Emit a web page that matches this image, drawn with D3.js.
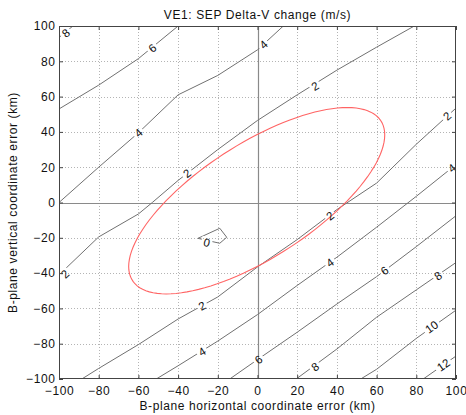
<!DOCTYPE html>
<html>
<head>
<meta charset="utf-8">
<script src="https://cdn.jsdelivr.net/npm/d3@7"></script>
<style>
  body { margin: 0; background: #fff; }
  svg { display: block; font-family: "Liberation Sans", Arial, Helvetica, sans-serif; }
</style>
</head>
<body>
<svg id="chart" width="466" height="415"></svg>
<script>
// VE1 SEP delta-V contour plot over B-plane errors

const xTicks = [-100, -80, -60, -40, -20, 0, 20, 40, 60, 80, 100];
const yTicks = [-100, -80, -60, -40, -20, 0, 20, 40, 60, 80, 100];

// contour polylines, [x km, y km]
const c8Upper = [[-100, 93.5], [-93, 100]];
const c6Upper = [[-100, 53], [-80, 66.5], [-60, 81.5], [-40, 100]];
const c4Upper = [[-100, 0], [-80, 20], [-60, 39.5], [-40, 61], [-20, 72], [0, 86.5], [13, 100]];
const c2Upper = [[-100, -41], [-80, -19.5], [-60, -6.5], [-53, 0], [-40, 12.5], [-20, 30], [0, 46.5], [20, 61], [40, 75], [60, 88], [79, 100]];
const c0Loop = [[-30, -20.3], [-19, -14.6], [-15.5, -19.7], [-19, -23.1], [-30, -20.3]];
const c2Lower = [[-88.5, -100], [-80, -94], [-60, -80.5], [-40, -66], [-20, -53.5], [0, -36.5], [20, -21], [40, -4], [60, 11], [80, 33], [100, 53.5]];
const c4Lower = [[-51, -100], [-40, -92.5], [-20, -78.5], [0, -63.5], [20, -47], [40, -31], [60, -14], [80, 3.5], [100, 21.5]];
const c6Lower = [[-14, -100], [0, -89], [20, -73.5], [40, -57.5], [60, -42], [80, -25], [100, -7.5]];
const c8Lower = [[19.5, -100], [40, -83], [60, -65], [80, -49.5], [100, -34]];
const c10Lower = [[52, -100], [60, -94.5], [80, -77], [100, -61]];
const c12Lower = [[83.5, -100], [100, -87]];

// contour label positions: [level, x, y]
const contourLabels = [
  [8, -96.5, 96], [6, -53, 87.5], [4, -60, 39.5], [4, 3, 89.5],
  [2, -97, -40.5], [2, -35.5, 16.5], [2, 29, 66], [0, -25.6, -22.6],
  [2, -28, -58.5], [2, 36.5, -7.5], [2, 95.5, 49],
  [4, -28, -84.5], [4, 36.5, -34], [4, 98, 19.5],
  [6, 0.5, -89], [6, 64, -38.5],
  [8, 29, -93], [8, 91, -41.5],
  [10, 87.7, -70.5], [12, 93.6, -92]
];

// 1-sigma dispersion ellipse: centre and covariance (km^2)
const ellipseCenter = [-0.4, 1];
const ellipseCov = { xx: 4160, xy: 2406, yy: 2788 };

const contours = [
  { level: 8, pts: c8Upper }, { level: 6, pts: c6Upper }, { level: 4, pts: c4Upper },
  { level: 2, pts: c2Upper }, { level: 0, pts: c0Loop }, { level: 2, pts: c2Lower },
  { level: 4, pts: c4Lower }, { level: 6, pts: c6Lower }, { level: 8, pts: c8Lower },
  { level: 10, pts: c10Lower }, { level: 12, pts: c12Lower }
];

const W = 466, H = 415;
const L = 59, R = 456, T = 26, B = 379;
const FONT = 12, SPACING = '0.6px';
const svg = d3.select('#chart');

const x = d3.scaleLinear().domain([-100, 100]).range([L, R]);
const y = d3.scaleLinear().domain([-100, 100]).range([B, T]);

// grid
const grid = svg.append('g').attr('stroke', '#b4b4b4').attr('stroke-width', 1).attr('stroke-dasharray', '1,2');
grid.selectAll('.gx').data(xTicks.slice(1, -1)).join('line')
  .attr('x1', d => Math.round(x(d)) + 0.5).attr('x2', d => Math.round(x(d)) + 0.5)
  .attr('y1', T).attr('y2', B);
grid.selectAll('.gy').data(yTicks.slice(1, -1)).join('line')
  .attr('y1', d => Math.round(y(d)) + 0.5).attr('y2', d => Math.round(y(d)) + 0.5)
  .attr('x1', L).attr('x2', R);

// zero lines
svg.append('line').attr('x1', Math.round(x(0)) + 0.5).attr('x2', Math.round(x(0)) + 0.5)
  .attr('y1', T).attr('y2', B).attr('stroke', '#8a8a8a').attr('stroke-width', 1.2);
svg.append('line').attr('y1', Math.round(y(0)) + 0.5).attr('y2', Math.round(y(0)) + 0.5)
  .attr('x1', L).attr('x2', R).attr('stroke', '#8a8a8a').attr('stroke-width', 1.2);

// label geometry: angle from nearest contour segment
function labelAngle(lv, lx, ly) {
  let best = null, bestD = Infinity;
  contours.filter(c => c.level === lv).forEach(c => {
    for (let i = 0; i < c.pts.length - 1; i++) {
      const ax = x(c.pts[i][0]), ay = y(c.pts[i][1]);
      const bx = x(c.pts[i + 1][0]), by = y(c.pts[i + 1][1]);
      const px = x(lx), py = y(ly);
      const dx = bx - ax, dy = by - ay;
      let t = ((px - ax) * dx + (py - ay) * dy) / (dx * dx + dy * dy);
      t = Math.max(0, Math.min(1, t));
      const qx = ax + t * dx, qy = ay + t * dy;
      const dd = (qx - px) ** 2 + (qy - py) ** 2;
      if (dd < bestD) { bestD = dd; best = [dx, dy]; }
    }
  });
  let a = Math.atan2(best[1], best[0]) * 180 / Math.PI;
  if (a > 90) a -= 180;
  if (a < -90) a += 180;
  return a;
}
const labelInfo = contourLabels.map(([lv, lx, ly]) => ({
  lv, px: x(lx), py: y(ly), ang: labelAngle(lv, lx, ly)
}));

// mask to break the contour lines under their labels
const defs = svg.append('defs');
const mask = defs.append('mask').attr('id', 'lblMask').attr('maskUnits', 'userSpaceOnUse')
  .attr('x', 0).attr('y', 0).attr('width', W).attr('height', H);
mask.append('rect').attr('width', W).attr('height', H).attr('fill', '#fff');
mask.selectAll('rect.hole').data(labelInfo).join('rect').attr('class', 'hole')
  .attr('x', d => -(String(d.lv).length * 3.4 + 2)).attr('y', -5.5)
  .attr('width', d => 2 * (String(d.lv).length * 3.4 + 2)).attr('height', 11)
  .attr('fill', '#000')
  .attr('transform', d => `translate(${d.px},${d.py}) rotate(${d.ang})`);
defs.append('clipPath').attr('id', 'plotClip').append('rect')
  .attr('x', L).attr('y', T).attr('width', R - L).attr('height', B - T);

const line = d3.line().x(d => x(d[0])).y(d => y(d[1]));

svg.append('g').attr('clip-path', 'url(#plotClip)').append('g').attr('mask', 'url(#lblMask)')
  .selectAll('path').data(contours).join('path')
  .attr('d', d => line(d.pts))
  .attr('fill', 'none').attr('stroke', '#707070').attr('stroke-width', 1);

// dispersion ellipse
const ell = d3.range(0, 361, 3).map(t => {
  const r = t * Math.PI / 180;
  const sx = Math.sqrt(ellipseCov.xx);
  const ex = sx * Math.cos(r);
  const ey = (ellipseCov.xy / sx) * Math.cos(r) + Math.sqrt(ellipseCov.yy - ellipseCov.xy ** 2 / ellipseCov.xx) * Math.sin(r);
  return [ellipseCenter[0] + ex, ellipseCenter[1] + ey];
});
svg.append('path').attr('d', line(ell) + 'Z')
  .attr('fill', 'none').attr('stroke', '#ff6464').attr('stroke-width', 1.1);

// contour labels
svg.append('g').selectAll('text').data(labelInfo).join('text')
  .attr('transform', d => `translate(${d.px},${d.py}) rotate(${d.ang})`)
  .attr('text-anchor', 'middle').attr('dy', '0.36em')
  .attr('font-size', 11.5).attr('fill', '#111')
  .text(d => d.lv);

// axes with inward ticks
const axB = svg.append('g').attr('transform', `translate(0,${B})`)
  .call(d3.axisBottom(x).tickValues(xTicks).tickSizeInner(-4).tickSizeOuter(0).tickPadding(7));
const axT = svg.append('g').attr('transform', `translate(0,${T})`)
  .call(d3.axisTop(x).tickValues(xTicks).tickSizeInner(-4).tickSizeOuter(0).tickFormat(''));
const axL = svg.append('g').attr('transform', `translate(${L},0)`)
  .call(d3.axisLeft(y).tickValues(yTicks).tickSizeInner(-4).tickSizeOuter(0).tickPadding(3.5));
const axR = svg.append('g').attr('transform', `translate(${R},0)`)
  .call(d3.axisRight(y).tickValues(yTicks).tickSizeInner(-4).tickSizeOuter(0).tickFormat(''));
[axB, axT, axL, axR].forEach(a => {
  a.select('.domain').remove();
  a.selectAll('line').attr('stroke', '#444');
  a.selectAll('text').attr('font-size', FONT).attr('fill', '#111').attr('letter-spacing', SPACING)
    .attr('font-family', '"Liberation Sans", Arial, sans-serif');
});

// box
svg.append('rect').attr('x', L + 0.5).attr('y', T + 0.5).attr('width', R - L - 1).attr('height', B - T - 1)
  .attr('fill', 'none').attr('stroke', '#444').attr('stroke-width', 1);

// titles
svg.append('text').attr('x', (L + R) / 2).attr('y', 18.5).attr('text-anchor', 'middle')
  .attr('font-size', FONT).attr('letter-spacing', SPACING).attr('fill', '#111')
  .text('VE1: SEP Delta-V change (m/s)');
svg.append('text').attr('x', (L + R) / 2).attr('y', 409.5).attr('text-anchor', 'middle')
  .attr('font-size', FONT).attr('letter-spacing', SPACING).attr('fill', '#111')
  .text('B-plane horizontal coordinate error (km)');
svg.append('text').attr('transform', `translate(17,${(T + B) / 2}) rotate(-90)`)
  .attr('text-anchor', 'middle').attr('font-size', FONT).attr('letter-spacing', SPACING).attr('fill', '#111')
  .text('B-plane vertical coordinate error (km)');
</script>
</body>
</html>
